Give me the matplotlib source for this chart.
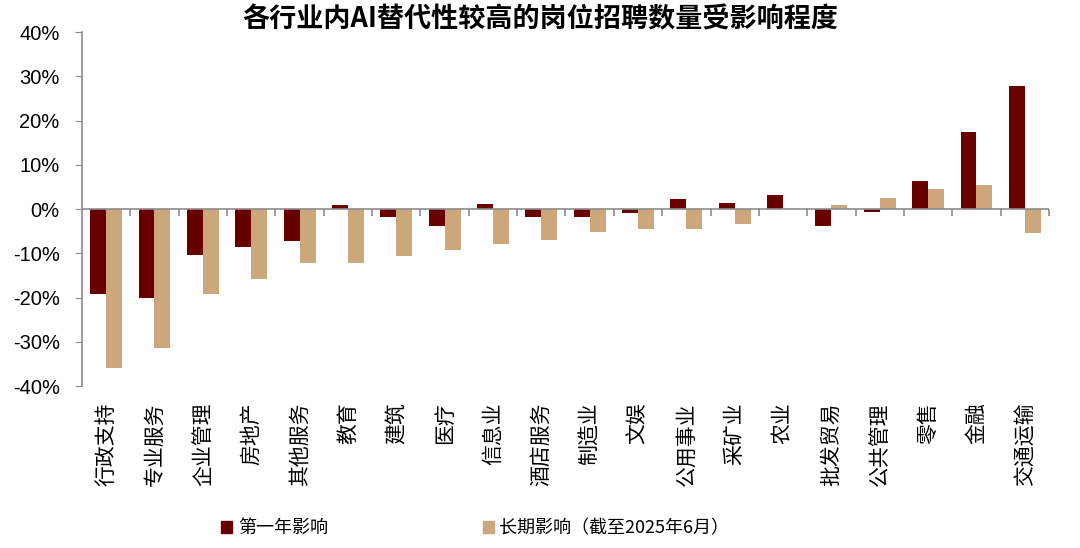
import numpy as np
import matplotlib.pyplot as plt
from matplotlib.patches import Patch
from matplotlib.markers import TICKDOWN

plt.rcParams['font.family'] = ['Noto Sans CJK SC', 'DejaVu Sans']

industries = ['行政支持', '专业服务', '企业管理', '房地产', '其他服务', '教育', '建筑', '医疗',
              '信息业', '酒店服务', '制造业', '文娱', '公用事业', '采矿业', '农业', '批发贸易',
              '公共管理', '零售', '金融', '交通运输']
first_year = [-19.1, -20.0, -10.5, -8.5, -7.2, 0.8, -1.9, -3.9, 1.2, -1.7,
              -1.7, -1.0, 2.2, 1.3, 3.1, -3.8, -0.7, 6.4, 17.3, 27.9]
long_term = [-35.9, -31.3, -19.1, -15.9, -12.2, -12.3, -10.7, -9.3, -7.9, -7.0,
             -5.2, -4.6, -4.6, -3.5, 0.0, 0.9, 2.4, 4.5, 5.4, -5.5]
series_names = ['第一年影响', '长期影响（截至2025年6月）']
dark = '#680000'
light = '#CBA77B'
grey = '#8C8C8C'

fig = plt.figure(figsize=(10.8, 5.48), dpi=100)
ax = fig.add_axes([0.0759, 0.2956, 0.8954, 0.646])

x = np.arange(len(industries))
w = 0.33
ax.bar(x - w / 2, first_year, w, color=dark)
ax.bar(x + w / 2, long_term, w, color=light)

ax.set_xlim(-0.5, len(industries) - 0.5)
ax.set_ylim(-40, 40)
ax.set_yticks(np.arange(-40, 41, 10))
ax.set_yticklabels(['%d%%' % v for v in np.arange(-40, 41, 10)],
                   family=['Liberation Sans', 'DejaVu Sans'], fontsize=14.5)
ax.tick_params(axis='y', length=5, color=grey, pad=11)

ax.set_xticks(x)
ax.set_xticklabels(industries, rotation=90, fontsize=15)
ax.tick_params(axis='x', length=0, pad=12)

for s in ['top', 'right', 'bottom']:
    ax.spines[s].set_visible(False)
ax.spines['left'].set_color(grey)
ax.spines['left'].set_linewidth(1.2)

ax.axhline(0, color=grey, lw=1.2, zorder=3)
bounds = np.arange(len(industries) + 1) - 0.5
ax.plot(bounds[1:], np.zeros(len(bounds) - 1), ls='none', marker=TICKDOWN,
        markersize=5, color=grey, markeredgewidth=1.2, zorder=3, clip_on=False)

fig.suptitle('各行业内AI替代性较高的岗位招聘数量受影响程度', x=0.5, y=0.99,
             fontsize=19.5, fontweight='bold')

handles = [Patch(color=dark), Patch(color=light)]
fig.legend(handles, series_names, ncol=2, loc='center left',
           bbox_to_anchor=(0.19, 0.036), frameon=False, fontsize=13,
           handlelength=0.6, handleheight=0.6, handletextpad=0.3,
           columnspacing=8.6)

fig.savefig('out.png', dpi=100)
